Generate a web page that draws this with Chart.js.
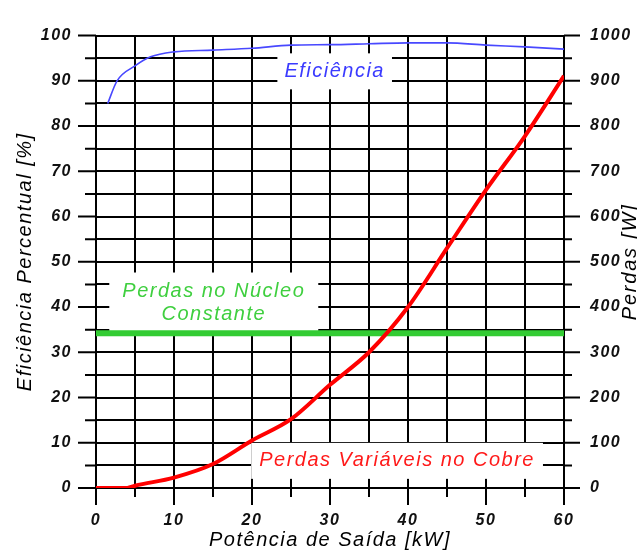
<!DOCTYPE html>
<html lang="pt">
<head>
<meta charset="utf-8">
<script src="https://cdn.jsdelivr.net/npm/chart.js@4.4.1/dist/chart.umd.min.js"></script>
<style>
  html, body { margin: 0; padding: 0; background: #fff; }
  #wrap { width: 637px; height: 555px; position: relative; }
</style>
</head>
<body>
<div id="wrap"><canvas id="grafico"></canvas></div>
<script>
// Eficiência [%] x potência de saída [kW]
var potEfic = [1.5, 2.7, 5, 7, 10, 15, 20, 25, 30, 35, 40, 45, 50, 55, 60];
var eficiencia = [85, 90, 93.3, 95.3, 96.4, 96.8, 97.2, 97.9, 98, 98.2, 98.4, 98.4, 97.9, 97.5, 97];

// Perdas variáveis no cobre [W]
var potCobre = [0, 4, 5, 10, 15, 20, 25, 30, 35, 40, 45, 50, 55, 60];
var perdasCobre = [0, 0, 5, 23, 53, 105, 152, 228, 300, 400, 530, 659, 778, 911];

// Perdas no núcleo (constante) [W]
var potNucleo = [0, 60];
var perdasNucleo = [342, 342];

// rótulos dos eixos
var rotulosX = [0, 10, 20, 30, 40, 50, 60];
var rotulosEfic = [0, 10, 20, 30, 40, 50, 60, 70, 80, 90, 100];
var rotulosPerdas = [0, 100, 200, 300, 400, 500, 600, 700, 800, 900, 1000];

var fonteTick = {family: 'Liberation Sans', size: 16, style: 'italic', weight: 'bold'};
var fonteTitulo = {family: 'Liberation Sans', size: 20, style: 'italic', weight: 'normal'};

function pontos(xs, ys) {
    return xs.map(function (x, i) { return {x: x, y: ys[i]}; });
}

function soRotulo(lista) {
    return function (value) {
        return lista.indexOf(value) > -1 ? value : '';
    };
}

// textos dentro do gráfico (posição em unidades dos eixos x / y)
var anotacoes = [
    {linhas: ['Eficiência'], x: 30.6, y: 92.1, cor: '#3b3bff', padX: 7, padY: 18},
    {linhas: ['Perdas no Núcleo', 'Constante'], x: 15.1, y: 41, cor: '#3fcf3f', padX: 13, padY: 30},
    {linhas: ['Perdas Variáveis no Cobre'], x: 38.6, y: 6.0, cor: '#ff1a1a', padX: 8, padY: 18}
];

// espaçamento entre letras, como no original
var espacamento = {
    id: 'espacamento',
    beforeDraw: function (chart) {
        chart.ctx.letterSpacing = '1.5px';
    }
};

function fonteAnotacao(ctx) {
    ctx.font = 'italic 20px "Liberation Sans"';
    ctx.letterSpacing = '1.5px';
    ctx.textAlign = 'center';
    ctx.textBaseline = 'middle';
}

// traços fora da área do gráfico + caixas brancas dos textos
var tracos = {
    id: 'tracos',
    beforeDatasetsDraw: function (chart) {
        var ctx = chart.ctx, a = chart.chartArea, sx = chart.scales.x, sy = chart.scales.y;
        ctx.save();
        ctx.strokeStyle = '#000';
        ctx.lineWidth = 2;
        ctx.beginPath();
        sx.ticks.forEach(function (t) {
            var px = sx.getPixelForValue(t.value);
            var len = t.value % 10 === 0 ? 17 : 9;
            ctx.moveTo(px, a.bottom);
            ctx.lineTo(px, a.bottom + len);
        });
        sy.ticks.forEach(function (t) {
            var py = sy.getPixelForValue(t.value);
            var major = t.value % 10 === 0;
            ctx.moveTo(a.left - (major ? 18 : 11), py);
            ctx.lineTo(a.left, py);
            ctx.moveTo(a.right, py);
            ctx.lineTo(a.right + (major ? 16 : 8), py);
        });
        ctx.stroke();

        // caixas brancas cortam a grade, mas não as curvas
        fonteAnotacao(ctx);
        ctx.fillStyle = '#fff';
        anotacoes.forEach(function (an) {
            var cx = sx.getPixelForValue(an.x);
            var cy = sy.getPixelForValue(an.y);
            var larg = 0;
            an.linhas.forEach(function (l) { larg = Math.max(larg, ctx.measureText(l).width); });
            ctx.fillRect(cx - larg / 2 - an.padX, cy - an.padY, larg + 2 * an.padX, 2 * an.padY);
        });
        ctx.restore();
    }
};

// textos + título do eixo da direita
var rotulos = {
    id: 'rotulos',
    afterDatasetsDraw: function (chart) {
        var ctx = chart.ctx, sx = chart.scales.x, sy = chart.scales.y;
        ctx.save();
        fonteAnotacao(ctx);
        anotacoes.forEach(function (an) {
            var cx = sx.getPixelForValue(an.x);
            var cy = sy.getPixelForValue(an.y);
            var h = 23;
            var y0 = cy - (an.linhas.length - 1) * h / 2;
            ctx.fillStyle = an.cor;
            an.linhas.forEach(function (l, i) {
                ctx.fillText(l, cx, y0 + i * h);
            });
        });
        ctx.restore();
    },
    afterDraw: function (chart) {
        var ctx = chart.ctx, a = chart.chartArea;
        ctx.save();
        ctx.font = 'italic 20px "Liberation Sans"';
        ctx.letterSpacing = '1.8px';
        ctx.fillStyle = '#000';
        ctx.textAlign = 'center';
        ctx.textBaseline = 'middle';
        ctx.translate(630, (a.top + a.bottom) / 2);
        ctx.rotate(-Math.PI / 2);
        ctx.fillText('Perdas [W]', 0, 0);
        ctx.restore();
    }
};

new Chart(document.getElementById('grafico'), {
    type: 'line',
    data: {
        datasets: [
            {
                label: 'Perdas Variáveis no Cobre',
                data: pontos(potCobre, perdasCobre),
                yAxisID: 'y2',
                borderColor: '#ff0000',
                borderWidth: 4,
                pointRadius: 0,
                cubicInterpolationMode: 'monotone'
            },
            {
                label: 'Perdas no Núcleo Constante',
                data: pontos(potNucleo, perdasNucleo),
                yAxisID: 'y2',
                borderColor: '#33cc33',
                borderWidth: 6,
                pointRadius: 0
            },
            {
                label: 'Eficiência',
                data: pontos(potEfic, eficiencia),
                yAxisID: 'y',
                borderColor: '#4848ff',
                borderWidth: 1.6,
                pointRadius: 0,
                cubicInterpolationMode: 'monotone'
            }
        ]
    },
    options: {
        responsive: true,
        maintainAspectRatio: false,
        animation: false,
        layout: {padding: {top: 20, left: 0, right: 0, bottom: 0}},
        plugins: {
            legend: {display: false},
            tooltip: {enabled: false}
        },
        scales: {
            x: {
                type: 'linear',
                min: 0,
                max: 60,
                ticks: {stepSize: 5, autoSkip: false, maxRotation: 0, padding: 23, color: '#111', font: fonteTick, callback: soRotulo(rotulosX)},
                grid: {color: '#000', lineWidth: 2, drawTicks: false},
                border: {color: '#000', width: 2},
                title: {display: true, text: 'Potência de Saída [kW]', color: '#000', font: fonteTitulo, padding: {top: 0, bottom: 3}},
                afterFit: function (s) { s.height = 67; }
            },
            y: {
                position: 'left',
                min: 0,
                max: 100,
                ticks: {stepSize: 5, autoSkip: false, padding: 24, color: '#111', font: fonteTick, callback: soRotulo(rotulosEfic)},
                grid: {color: '#000', lineWidth: 2, drawTicks: false},
                border: {color: '#000', width: 2},
                title: {display: true, text: 'Eficiência Percentual [%]', color: '#000', font: fonteTitulo, padding: {top: 13, bottom: 0}},
                afterFit: function (s) { s.width = 96; }
            },
            y2: {
                position: 'right',
                min: 0,
                max: 1000,
                ticks: {stepSize: 100, autoSkip: false, padding: 26, color: '#111', font: fonteTick, callback: soRotulo(rotulosPerdas)},
                grid: {drawOnChartArea: false, drawTicks: false},
                border: {color: '#000', width: 2},
                afterFit: function (s) { s.width = 73; }
            }
        }
    },
    plugins: [espacamento, tracos, rotulos]
});
</script>
</body>
</html>
